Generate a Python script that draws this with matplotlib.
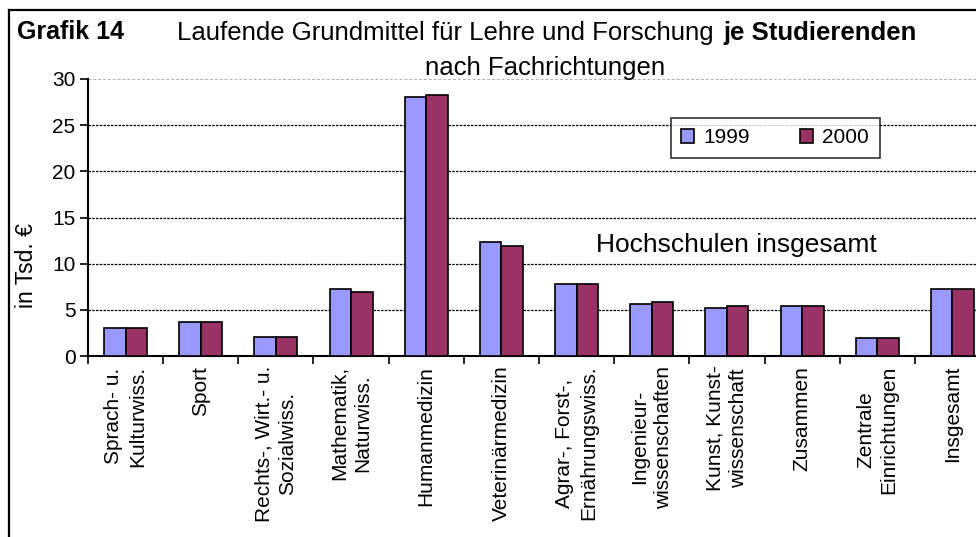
import numpy as np
import matplotlib
matplotlib.use("Agg")
import matplotlib.pyplot as plt
from matplotlib.lines import Line2D

plt.rcParams["font.family"] = ["Liberation Sans", "DejaVu Sans"]

# Daten (Tsd. Euro je Studierenden)
kategorien = [
    "Sprach- u.\nKulturwiss.",
    "Sport",
    "Rechts-, Wirt.- u.\nSozialwiss.",
    "Mathematik,\nNaturwiss.",
    "Humanmedizin",
    "Veterinärmedizin",
    "Agrar-, Forst-,\nErnährungswiss.",
    "Ingenieur-\nwissenschaften",
    "Kunst, Kunst-\nwissenschaft",
    "Zusammen",
    "Zentrale\nEinrichtungen",
    "Insgesamt",
]
werte_1999 = [3.0, 3.7, 2.1, 7.3, 28.0, 12.3, 7.8, 5.6, 5.2, 5.4, 1.9, 7.3]
werte_2000 = [3.0, 3.7, 2.1, 6.9, 28.3, 11.9, 7.8, 5.8, 5.4, 5.4, 1.9, 7.3]
y_ticks = [0, 5, 10, 15, 20, 25, 30]

W, H = 976, 537
fig = plt.figure(figsize=(W / 100, H / 100), dpi=100)
ax = fig.add_axes([88 / W, 1 - 356 / H, 902 / W, 277 / H])

x = np.arange(len(kategorien))
bw = 1 / 3.5
ax.bar(x - bw / 2, werte_1999, bw, color="#9999FF", edgecolor="black", linewidth=1.2, label="1999", zorder=3)
ax.bar(x + bw / 2, werte_2000, bw, color="#993366", edgecolor="black", linewidth=1.2, label="2000", zorder=3)

ax.set_xlim(-0.5, len(kategorien) - 0.5)
ax.set_ylim(0, 30)
ax.set_yticks(y_ticks)
ax.tick_params(axis="y", labelsize=15, length=6, width=1.2, direction="out", pad=3)

# gitter
for v in y_ticks[1:-1]:
    ax.axhline(v, color="black", linestyle=(0, (2, 1)), linewidth=0.9, zorder=1)
ax.axhline(30, color="#b0b0b0", linestyle=(0, (3, 2)), linewidth=0.7, zorder=1)

ax.set_xticks(np.arange(-0.5, len(kategorien), 1))
ax.set_xticklabels([])
ax.tick_params(axis="x", which="major", length=6, width=1.2, direction="out")
ax.set_xticks(x, minor=True)
ax.set_xticklabels(kategorien, minor=True, rotation=90, fontsize=15,
                   ha="center", va="top", multialignment="center", linespacing=1.3)
ax.tick_params(axis="x", which="minor", length=0, pad=7)

for s in ["top", "right"]:
    ax.spines[s].set_visible(False)
ax.spines["left"].set_linewidth(1.5)
ax.spines["bottom"].set_linewidth(1.5)

ax.set_ylabel("in Tsd. €", fontsize=16.5)
ax.yaxis.set_label_coords(-0.055, 0.325)

leg = ax.legend(loc="upper left", bbox_to_anchor=(671 / W, 1 - 118 / H),
                bbox_transform=fig.transFigure, ncol=2, fontsize=15,
                frameon=True, fancybox=False, handlelength=0.62, handleheight=0.62,
                handletextpad=0.45, columnspacing=2.4, borderpad=0.5, borderaxespad=0)
leg.get_frame().set_edgecolor("black")
leg.get_frame().set_linewidth(1.2)

fig.text(596 / W, 1 - 245 / H, "Hochschulen insgesamt", fontsize=19, ha="left", va="center")

# titel
fig.text(17 / W, 1 - 32 / H, "Grafik 14", fontsize=18, weight="bold", ha="left", va="center")
t1 = fig.text(177 / W, 1 - 33 / H, "Laufende Grundmittel für Lehre und Forschung",
              fontsize=18.5, ha="left", va="center")
ax.annotate("je Studierenden", xy=(1, 0.5), xycoords=t1, xytext=(7, 0),
            textcoords="offset points", fontsize=18.5, weight="bold", ha="left", va="center")
fig.text(545 / W, 1 - 68 / H, "nach Fachrichtungen", fontsize=18.5, ha="center", va="center")

# rahmen
fig.add_artist(Line2D([9 / W, 9 / W], [0, 1 - 10 / H], color="black", linewidth=1.6))
fig.add_artist(Line2D([9 / W, 1], [1 - 10 / H, 1 - 10 / H], color="black", linewidth=1.6))

fig.savefig("out.png", dpi=100)
